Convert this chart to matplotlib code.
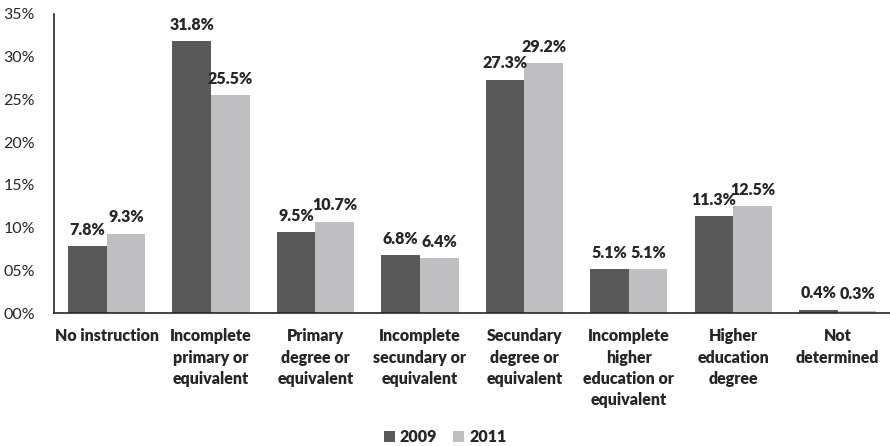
import matplotlib.pyplot as plt
import numpy as np

plt.rcParams['font.family'] = ['Lato', 'DejaVu Sans']

categories = ["No instruction", "Incomplete\nprimary or\nequivalent", "Primary\ndegree or\nequivalent",
              "Incomplete\nsecundary or\nequivalent", "Secundary\ndegree or\nequivalent",
              "Incomplete\nhigher\neducation or\nequivalent", "Higher\neducation\ndegree", "Not\ndetermined"]
values_2009 = [7.8, 31.8, 9.5, 6.8, 27.3, 5.1, 11.3, 0.4]
values_2011 = [9.3, 25.5, 10.7, 6.4, 29.2, 5.1, 12.5, 0.3]
yticks = [0, 5, 10, 15, 20, 25, 30, 35]

dark = '#595959'
light = '#bfbfc1'
txt = '#262626'

fig = plt.figure(figsize=(8.9, 4.46), dpi=100)
ax = fig.add_axes([0.061, 0.298, 0.939, 0.671])

x = np.arange(len(categories))
w = 0.37
b1 = ax.bar(x - w / 2, values_2009, w, color=dark, label='2009')
b2 = ax.bar(x + w / 2, values_2011, w, color=light, label='2011')

for bars, vals in ((b1, values_2009), (b2, values_2011)):
    for rect, v in zip(bars, vals):
        ax.annotate(f"{v:.1f}%", (rect.get_x() + rect.get_width() / 2, v),
                    xytext=(0, 6), textcoords='offset points', ha='center', va='bottom',
                    fontsize=11.5, fontweight='heavy', color=txt)

ax.set_xlim(-0.5, len(categories) - 0.5)
ax.set_ylim(0, 35)
ax.set_yticks(yticks)
ax.set_yticklabels([f"{t:02d}%" for t in yticks], fontsize=11.5, color=txt)
ax.set_xticks(x)
ax.set_xticklabels(categories, fontsize=11.5, fontweight='heavy', color=txt, linespacing=1.4, va='top')
ax.tick_params(axis='both', length=0)
ax.tick_params(axis='x', pad=11)
ax.tick_params(axis='y', pad=14)

for s in ('top', 'right'):
    ax.spines[s].set_visible(False)
for s in ('left', 'bottom'):
    ax.spines[s].set_color(txt)
    ax.spines[s].set_linewidth(1.2)

fig.legend(handles=[b1, b2], loc='lower center', bbox_to_anchor=(0.5, -0.03), ncol=2, frameon=False,
           prop={'size': 11.5, 'weight': 'heavy'}, handlelength=0.7, handleheight=0.7,
           handletextpad=0.3, columnspacing=1.0, labelcolor=txt)

fig.savefig('out.png', dpi=100)
